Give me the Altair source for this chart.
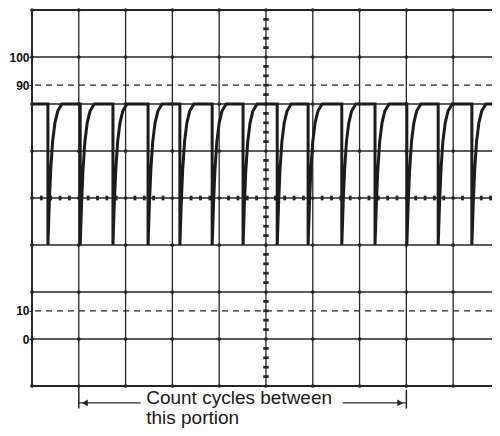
import altair as alt
import pandas as pd

# --- values (x in screen divisions, y in vertical divisions) ---
grid_x = [0, 1, 2, 3, 4, 5, 6, 7, 8, 9, 10]
grid_y = [0, 1, 2, 3, 4, 5, 6, 7, 8]
dashed_levels = [1.6, 6.4]               # 10 % and 90 % lines
label_levels = [7, 6.4, 1.6, 1]
label_texts = ["100", "90", "10", "0"]

spike_x = [0.34, 1.03, 1.73, 2.48, 3.16, 3.85, 4.51, 5.24, 5.90, 6.62, 7.33, 8.01, 8.68, 9.40]
top_level = 6.0
bottom_level = 3.0
rise_dx = [0.03, 0.06, 0.10, 0.15, 0.21, 0.30]
rise_level = [3.9, 4.6, 5.2, 5.6, 5.85, 6.0]

arrow_left = 1.0
arrow_right = 8.0
text_left = 2.44
text_right = 6.64
caption_lines = ["Count cycles between", "this portion"]
caption_y = [-0.38, -0.81]
arrow_y = -0.36
bar_bottom = -0.48

X_VISIBLE = 9.83   # the picture is cut off just before the right-hand border

INK = "#262626"
xs = alt.Scale(domain=[0, X_VISIBLE], nice=False, zero=False)
ys = alt.Scale(domain=[0, 8], nice=False, zero=False)

# trace table built from read spike positions and read spike shape
rows = [(0.0, top_level)]
for s in spike_x:
    rows.append((s, top_level))
    rows.append((s, bottom_level))
    for dx, lv in zip(rise_dx, rise_level):
        rows.append((s + dx, lv))
rows.append((X_VISIBLE, top_level))
trace = pd.DataFrame({"x": [r[0] for r in rows], "y": [r[1] for r in rows], "i": list(range(len(rows)))})

label_expr = " : ".join(
    f"datum.value == {lv} ? '{t}'" for lv, t in zip(label_levels, label_texts)
) + " : ''"
yaxis = alt.Axis(
    values=label_levels, labelExpr=label_expr, ticks=True, tickSize=3, tickColor=INK,
    domain=False, grid=False, title=None, labelFont="Liberation Sans", labelFontSize=12,
    labelFontWeight="bold", labelColor="#111", labelPadding=0)

X = lambda f="x": alt.X(f + ":Q", scale=xs, axis=None)
Y = lambda f="y": alt.Y(f + ":Q", scale=ys, axis=yaxis)

vis_x = [g for g in grid_x if g <= X_VISIBLE]
vgrid = alt.Chart(pd.DataFrame({"x": vis_x})).mark_rule(color=INK, strokeWidth=1.3).encode(x=X())
hgrid = alt.Chart(pd.DataFrame({"y": grid_y})).mark_rule(color=INK, strokeWidth=1.3).encode(y=Y())
border_v = alt.Chart(pd.DataFrame({"x": [grid_x[0]]})).mark_rule(color=INK, strokeWidth=2).encode(x=X())
border_h = alt.Chart(pd.DataFrame({"y": [grid_y[0], grid_y[-1]]})).mark_rule(color=INK, strokeWidth=2).encode(y=Y())

dashed = alt.Chart(pd.DataFrame({"y": dashed_levels})).mark_rule(
    color=INK, strokeWidth=1.2, strokeDash=[6, 5]).encode(y=Y())

inter = pd.DataFrame([(gx, gy) for gx in vis_x for gy in grid_y], columns=["x", "y"])
dots = alt.Chart(inter).mark_circle(color=INK, size=14, opacity=1).encode(x=X(), y=Y())

minor_h = pd.DataFrame({"x": [k / 5 for k in range(50) if k % 5], "y": 4})
minor_v = pd.DataFrame({"x": 5, "y": [k / 5 for k in range(41) if k % 5]})
ticks_h = alt.Chart(minor_h).mark_point(
    shape="M-0.6,-1L0.6,-1L0.6,1L-0.6,1Z", filled=True, size=22, color=INK, opacity=1).encode(x=X(), y=Y())
ticks_v = alt.Chart(minor_v).mark_point(
    shape="M-1,-0.5L1,-0.5L1,0.5L-1,0.5Z", filled=True, size=30, color=INK, opacity=1).encode(x=X(), y=Y())

line = alt.Chart(trace).mark_line(color="#1c1c1c", strokeWidth=3, strokeJoin="miter").encode(
    x=X(), y=Y(), order="i:Q")

seg = pd.DataFrame({"x": [arrow_left, text_right], "x2": [text_left - 0.12, arrow_right], "y": arrow_y})
arrow_lines = alt.Chart(seg).mark_rule(color=INK, strokeWidth=1.3).encode(
    x=X(), x2="x2:Q", y=Y())
bars = pd.DataFrame({"x": [arrow_left, arrow_right], "y": [0.0, -0.08], "y2": [bar_bottom, bar_bottom]})
end_bars = alt.Chart(bars).mark_rule(color=INK, strokeWidth=1.5).encode(x=X(), y=Y(), y2="y2:Q")
heads = pd.DataFrame({"x": [arrow_left + 0.13, arrow_right - 0.13], "y": arrow_y,
                      "s": ["triangle-left", "triangle-right"]})
arrow_heads = alt.Chart(heads).mark_point(filled=True, size=45, color=INK, opacity=1).encode(
    x=X(), y=Y(), shape=alt.Shape("s:N", scale=None, legend=None))
caption = alt.Chart(pd.DataFrame({"t": caption_lines, "y": caption_y, "x": text_left})).mark_text(
    align="left", baseline="alphabetic", font="Liberation Sans", fontSize=19, color="#1a1a1a").encode(
    x=X(), y=Y(), text="t:N")

chart = alt.layer(
    vgrid, hgrid, dashed, dots, ticks_h, ticks_v, border_v, border_h, line,
    arrow_lines, end_bars, arrow_heads, caption
).properties(
    width=460, height=376,
    autosize=alt.AutoSizeParams(type="none"),
    padding={"left": 24, "top": 2, "right": 0, "bottom": 42},
    background="white",
).configure_view(stroke=None)

chart.save("out.html", embed_options={"renderer": "svg", "actions": False})
